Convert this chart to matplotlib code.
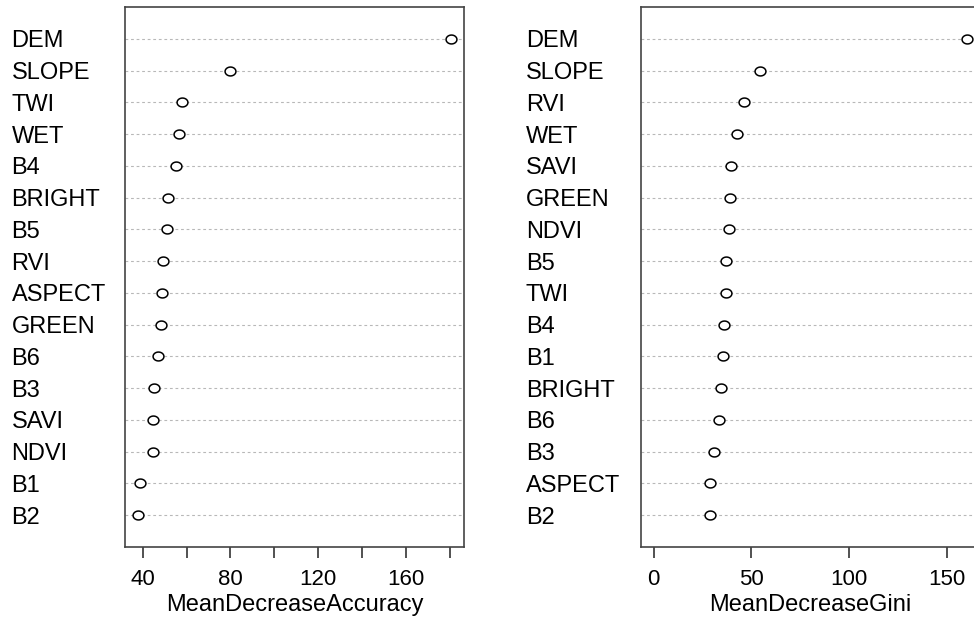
import matplotlib
matplotlib.use("Agg")
import matplotlib.pyplot as plt
import numpy as np
from matplotlib.path import Path
from matplotlib.transforms import blended_transform_factory, ScaledTranslation

plt.rcParams["font.family"] = ["Liberation Sans", "DejaVu Sans"]

# variable importance, listed top to bottom as in the chart
acc_vars = ["DEM", "SLOPE", "TWI", "WET", "B4", "BRIGHT", "B5", "RVI",
            "ASPECT", "GREEN", "B6", "B3", "SAVI", "NDVI", "B1", "B2"]
acc_vals = [180.6, 79.9, 58.1, 56.4, 55.2, 51.7, 51.1, 49.3,
            48.7, 48.4, 47.2, 45.2, 44.7, 44.6, 38.9, 37.7]

gini_vars = ["DEM", "SLOPE", "RVI", "WET", "SAVI", "GREEN", "NDVI", "B5",
             "TWI", "B4", "B1", "BRIGHT", "B6", "B3", "ASPECT", "B2"]
gini_vals = [160.4, 54.6, 46.1, 42.8, 39.6, 38.9, 38.4, 36.9,
             36.8, 36.2, 35.7, 34.3, 33.6, 31.0, 29.0, 28.8]

acc_ticks = [40, 60, 80, 100, 120, 140, 160, 180]
acc_ticklabels = ["40", "", "80", "", "120", "", "160", ""]
gini_ticks = [0, 50, 100, 150]
gini_ticklabels = ["0", "50", "100", "150"]

# slightly squashed open circle, like the stretched original
theta = np.linspace(0, 2 * np.pi, 60)
ELLIPSE = Path(np.column_stack([np.cos(theta), 0.82 * np.sin(theta)]), closed=True)

W, H = 974, 621
fig = plt.figure(figsize=(W / 100, H / 100), dpi=100)
fig.patch.set_facecolor("white")

LABEL_FS = 17


def dotpanel(rect, names, vals, xlo, ticks, ticklabels, xlabel, label_x):
    ax = fig.add_axes(rect)
    n = len(names)
    ys = np.arange(n, 0, -1)
    lo = xlo if xlo is not None else min(vals)
    rng = max(vals) - lo
    ax.set_xlim(lo - 0.04 * rng, max(vals) + 0.04 * rng)
    ax.set_ylim(0, n + 1)
    for y in ys:
        ax.axhline(y, color="#b8b8b8", lw=0.8, ls=(0, (2.5, 2.5)), zorder=1)
    ax.plot(vals, ys, ls="none", marker=ELLIPSE, ms=7.8, mfc="white",
            mec="black", mew=1.1, zorder=3)
    ax.set_yticks([])
    ax.set_xticks(ticks)
    ax.set_xticklabels(ticklabels, fontsize=16)
    ax.tick_params(axis="x", length=8, width=1.2, pad=8, colors="#333333",
                   labelcolor="black")
    ax.set_xlabel(xlabel, fontsize=17, labelpad=3)
    for sp in ax.spines.values():
        sp.set_color("#444444")
        sp.set_linewidth(1.2)
    # baseline sits half a cap height below the row
    cap = LABEL_FS * 0.716 / 72
    tr = blended_transform_factory(fig.transFigure, ax.transData) + \
        ScaledTranslation(0, -cap / 2, fig.dpi_scale_trans)
    for name, y in zip(names, ys):
        ax.text(label_x / W, y, name, transform=tr, ha="left", va="baseline",
                fontsize=LABEL_FS, clip_on=False)
    return ax


bottom = (H - 547) / H
height = 540 / H
dotpanel([125 / W, bottom, 339 / W, height], acc_vars, acc_vals, None,
         acc_ticks, acc_ticklabels, "MeanDecreaseAccuracy", 11.5)
dotpanel([641 / W, bottom, 339 / W, height], gini_vars, gini_vals, 0,
         gini_ticks, gini_ticklabels, "MeanDecreaseGini", 526)

fig.savefig("out.png", dpi=100, facecolor="white")
